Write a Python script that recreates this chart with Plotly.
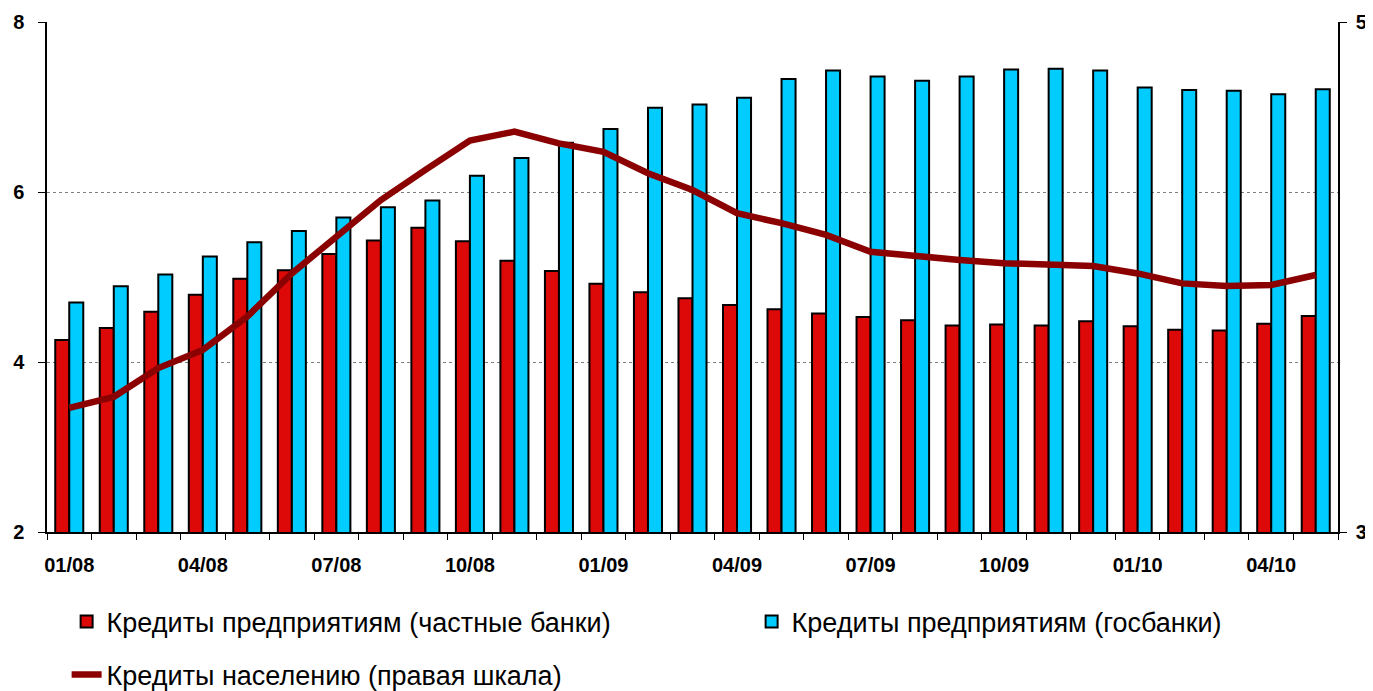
import plotly.graph_objects as go

months = ["01/08", "02/08", "03/08", "04/08", "05/08", "06/08", "07/08", "08/08", "09/08", "10/08",
          "11/08", "12/08", "01/09", "02/09", "03/09", "04/09", "05/09", "06/09", "07/09", "08/09",
          "09/09", "10/09", "11/09", "12/09", "01/10", "02/10", "03/10", "04/10", "05/10"]

private_banks = [4.26, 4.40, 4.59, 4.79, 4.98, 5.08, 5.27, 5.43, 5.58, 5.42,
                 5.19, 5.07, 4.92, 4.82, 4.75, 4.67, 4.62, 4.57, 4.53, 4.49,
                 4.43, 4.44, 4.43, 4.48, 4.42, 4.38, 4.37, 4.45, 4.54]

state_banks = [4.70, 4.89, 5.03, 5.24, 5.41, 5.54, 5.70, 5.82, 5.90, 6.19,
               6.40, 6.58, 6.74, 6.99, 7.03, 7.11, 7.33, 7.43, 7.36, 7.31,
               7.36, 7.44, 7.45, 7.43, 7.23, 7.20, 7.19, 7.15, 7.21]

households = [3.487, 3.53, 3.643, 3.714, 3.845, 4.014, 4.158, 4.302, 4.42, 4.535,
              4.570, 4.524, 4.491, 4.407, 4.341, 4.250, 4.211, 4.165, 4.099, 4.080,
              4.067, 4.054, 4.047, 4.043, 4.014, 3.975, 3.965, 3.969, 4.008]

tick_text = [m if i % 3 == 0 else "" for i, m in enumerate(months)]

names = ["Кредиты предприятиям (частные банки)",
         "Кредиты предприятиям (госбанки)",
         "Кредиты населению (правая шкала)"]

RED = "#DD0909"
BLUE = "#00CCFF"
DARKRED = "#8B0000"
FONT = "Arial, Liberation Sans, sans-serif"

fig = go.Figure()
fig.add_trace(go.Bar(x=months, y=private_banks, name=names[0],
                     marker=dict(color=RED, line=dict(color="black", width=2)),
                     legend="legend", legendwidth=640))
fig.add_trace(go.Bar(x=months, y=state_banks, name=names[1],
                     marker=dict(color=BLUE, line=dict(color="black", width=2)),
                     legend="legend"))
fig.add_trace(go.Scatter(x=months, y=households, name=names[2], yaxis="y2",
                         mode="lines", line=dict(color=DARKRED, width=6.5),
                         legend="legend2"))

tick_font = dict(size=20, weight="bold", family=FONT, color="black")

# the page body adds an 8px margin, so the figure is sized to fit the window
fig.update_layout(
    width=1365, height=683,
    margin=dict(l=39, r=35, t=14, b=159, autoexpand=False),
    paper_bgcolor="white", plot_bgcolor="white",
    barmode="group", bargap=0.37, bargroupgap=0,
    font=dict(family=FONT, color="black"),
    xaxis=dict(type="category", tickvals=months, ticktext=tick_text, tickangle=0,
               tickson="boundaries", ticks="outside", ticklen=6, tickwidth=1,
               tickcolor="black", showline=True, linecolor="black", linewidth=1.5,
               showgrid=False, ticklabelstandoff=14, tickfont=tick_font),
    yaxis=dict(range=[2, 8], tickvals=[2, 4, 6, 8], ticks="outside", ticklen=7,
               tickcolor="black", showline=True, linecolor="black", linewidth=1.5,
               showgrid=True, gridcolor="#7f7f7f", gridwidth=1, griddash="dot",
               zeroline=False, ticklabelstandoff=10, tickfont=tick_font),
    yaxis2=dict(range=[3, 5], tickvals=[3, 5], overlaying="y", side="right",
                ticks="outside", ticklen=7, tickcolor="black", showline=True,
                linecolor="black", linewidth=1.5, showgrid=False, zeroline=False,
                ticklabelstandoff=5, tickfont=tick_font),
    legend=dict(orientation="h", x=0.0152, xanchor="left", y=-0.1765, yanchor="middle",
                traceorder="normal",
                font=dict(size=27, family=FONT, color="black"),
                bgcolor="rgba(0,0,0,0)", borderwidth=0),
    legend2=dict(orientation="h", x=0.0152, xanchor="left", y=-0.2804, yanchor="middle",
                 font=dict(size=27, family=FONT, color="black"),
                 bgcolor="rgba(0,0,0,0)", borderwidth=0),
    showlegend=True,
)

fig.write_html("out.html")
